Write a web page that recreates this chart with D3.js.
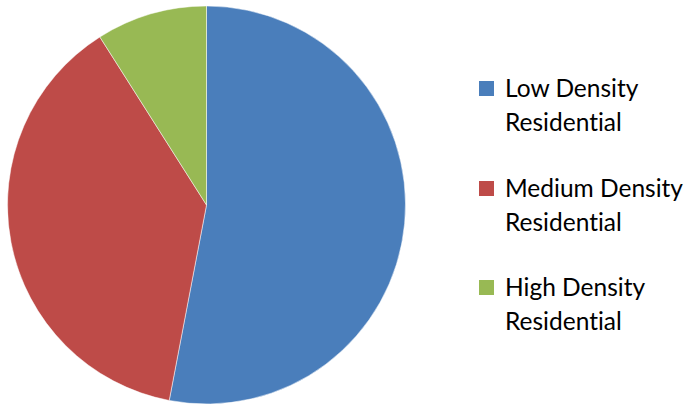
<!DOCTYPE html>
<html>
<head>
<meta charset="utf-8">
<script src="https://cdn.jsdelivr.net/npm/d3@7/dist/d3.min.js"></script>
<style>
  html, body { margin: 0; padding: 0; background: #fff; }
  svg { display: block; }
  text { font-family: Lato, "Open Sans", sans-serif; fill: #000; font-variant-ligatures: none; font-feature-settings: "liga" 0, "dlig" 0; }
</style>
</head>
<body>
<svg id="chart" width="688" height="405"></svg>
<script>
// Land-use share by residential density class
const categories = ["Low Density Residential", "Medium Density Residential", "High Density Residential"];
const legendLines = [["Low Density", "Residential"], ["Medium Density", "Residential"], ["High Density", "Residential"]];
const values = [53, 38, 9];
const colors = ["#4A7EBB", "#BE4B48", "#98B954"];

const svg = d3.select("#chart");
const cx = 206.5, cy = 205, r = 199;

const pie = d3.pie().sort(null).value(d => d.value);
const arc = d3.arc().innerRadius(0).outerRadius(r);
const data = categories.map((c, i) => ({ name: c, value: values[i], color: colors[i] }));

svg.append("g")
  .attr("transform", `translate(${cx},${cy})`)
  .selectAll("path")
  .data(pie(data))
  .join("path")
  .attr("d", arc)
  .attr("fill", d => d.data.color)
  .attr("stroke", "#fff")
  .attr("stroke-width", 0.5);

// Legend
const legend = svg.append("g");
const rowY = [81, 181, 280];
data.forEach((d, i) => {
  const g = legend.append("g").attr("transform", `translate(479,${rowY[i]})`);
  g.append("rect").attr("width", 15).attr("height", 15).attr("fill", d.color);
  g.append("text")
    .attr("x", 26).attr("y", 16)
    .style("font-size", "24.5px")
    .text(legendLines[i][0]);
  g.append("text")
    .attr("x", 26).attr("y", 50)
    .style("font-size", "24.5px")
    .text(legendLines[i][1]);
});
</script>
</body>
</html>
